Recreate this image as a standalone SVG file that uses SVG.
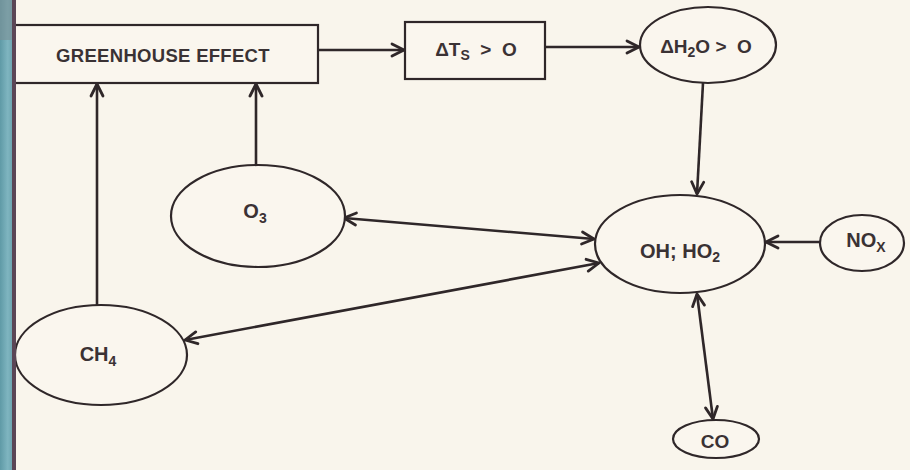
<svg xmlns="http://www.w3.org/2000/svg" width="910" height="470" viewBox="0 0 910 470">
  <defs>
    <marker id="head" viewBox="-14 -8 16 16" markerWidth="16" markerHeight="16" refX="0" refY="0" orient="auto-start-reverse" markerUnits="userSpaceOnUse">
      <path d="M-12,-6 L0,0 L-12,6" fill="none" stroke="#2f2729" stroke-width="2.8" stroke-linecap="round" stroke-linejoin="round"/>
    </marker>
    <linearGradient id="spine" x1="0" y1="0" x2="1" y2="0">
      <stop offset="0" stop-color="#5f9aa6"/>
      <stop offset="0.6" stop-color="#7fb5c0"/>
      <stop offset="1" stop-color="#6aa2ad"/>
    </linearGradient>
  </defs>
  <style>
    .shape { fill: #faf6ee; stroke: #2f2729; stroke-width: 2.2; }
    .link { fill: none; stroke: #2f2729; stroke-width: 2.6; }
    .lbl { font-family: "Liberation Sans", Arial, sans-serif; font-size: 19px; font-weight: bold; fill: #3a3234; text-anchor: middle; }
    .big { font-size: 20px; }
    .sub { font-size: 14px; }
  </style>

  <!-- paper -->
  <rect x="0" y="0" width="910" height="470" fill="#f9f5ec"/>

  <!-- connectors -->
  <g id="connectors">
    <line class="link" x1="318" y1="50" x2="404" y2="50" marker-end="url(#head)"/>
    <line class="link" x1="545" y1="47" x2="639" y2="47" marker-end="url(#head)"/>
    <line class="link" x1="703" y1="83" x2="697" y2="194" marker-end="url(#head)"/>
    <line class="link" x1="820" y1="242" x2="766" y2="242" marker-end="url(#head)"/>
    <line class="link" x1="344" y1="218" x2="594" y2="239" marker-start="url(#head)" marker-end="url(#head)"/>
    <line class="link" x1="185" y1="340" x2="599" y2="263" marker-start="url(#head)" marker-end="url(#head)"/>
    <line class="link" x1="697" y1="294" x2="713" y2="419" marker-start="url(#head)" marker-end="url(#head)"/>
    <line class="link" x1="256" y1="166" x2="256" y2="84" marker-end="url(#head)"/>
    <line class="link" x1="97" y1="305" x2="97" y2="84" marker-end="url(#head)"/>
  </g>

  <!-- nodes -->
  <g id="greenhouse">
    <rect class="shape" x="8" y="25" width="310" height="58"/>
    <text class="lbl" x="163" y="62" style="font-size:18.5px" letter-spacing="0.3">GREENHOUSE EFFECT</text>
  </g>
  <g id="delta-ts">
    <rect class="shape" x="405" y="22" width="140" height="57"/>
    <text class="lbl" x="476" y="56">ΔT<tspan class="sub" dy="4">S</tspan><tspan dy="-4">&#160;&#160;&gt;&#160;&#160;O</tspan></text>
  </g>
  <g id="delta-h2o">
    <ellipse class="shape" cx="708" cy="45" rx="68" ry="38"/>
    <text class="lbl" x="706" y="53">ΔH<tspan class="sub" dy="4">2</tspan><tspan dy="-4">O &gt;&#160;&#160;O</tspan></text>
  </g>
  <g id="oh-ho2">
    <ellipse class="shape" cx="680" cy="244" rx="85" ry="49"/>
    <text class="lbl big" x="680" y="258">OH; HO<tspan class="sub" dy="4">2</tspan></text>
  </g>
  <g id="nox">
    <ellipse class="shape" cx="862" cy="243" rx="42" ry="28"/>
    <text class="lbl big" x="866" y="247">NO<tspan class="sub" dy="5">X</tspan></text>
  </g>
  <g id="co">
    <ellipse class="shape" cx="716" cy="439" rx="43" ry="19"/>
    <text class="lbl" x="715" y="448">CO</text>
  </g>
  <g id="o3">
    <ellipse class="shape" cx="258" cy="216" rx="87" ry="51"/>
    <text class="lbl big" x="255" y="218">O<tspan class="sub" dy="5">3</tspan></text>
  </g>
  <g id="ch4">
    <ellipse class="shape" cx="101" cy="355" rx="86" ry="50"/>
    <text class="lbl big" x="98" y="361">CH<tspan class="sub" dy="5">4</tspan></text>
  </g>

  <!-- book spine along the left edge -->
  <rect x="0" y="0" width="13" height="470" fill="url(#spine)"/>
  <rect x="0" y="0" width="13" height="40" fill="#7c8f95" opacity="0.6"/>
  <rect x="12" y="0" width="4" height="470" fill="#5b4656"/>
</svg>
